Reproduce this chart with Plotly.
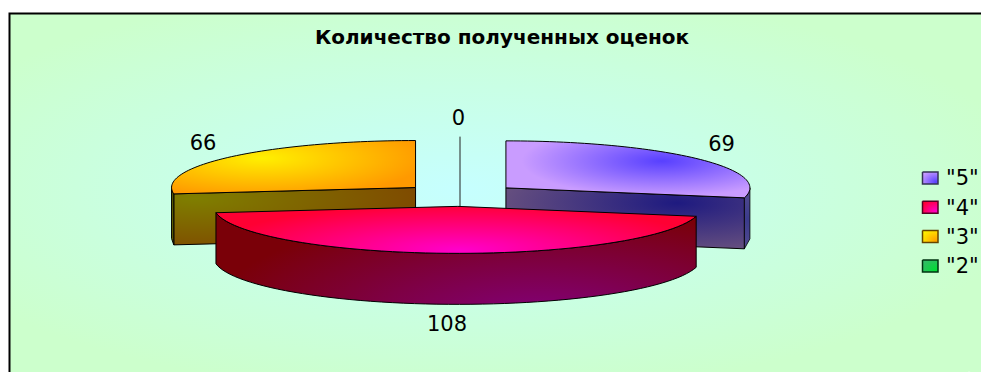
import math
import plotly.graph_objects as go

# ---- data ----
categories = ['"5"', '"4"', '"3"', '"2"']
values = [69, 108, 66, 0]
title_text = "Количество полученных оценок"

# ---- pie projection (pixel-unit axes) ----
W, H = 981, 372
CX, CY = 460.0, 195.0      # pie centre
RX, RY = 244.0, 47.0       # ellipse radii of the tilted pie
DEPTH = 51.0               # height of the pie wall
EXPLODE = 59.0 / 244.0     # explosion, fraction of radius
FONT = "DejaVu Sans, sans-serif"

fig = go.Figure()


def poly(points, center=None, radius=None, c_in="#000", c_out="#000", outline="#000000", lw=1.0, knee=1.0):
    """Filled polygon with an elliptical gradient around `center`.
    The zero-area spur sets the bounding box that the radial gradient follows."""
    xs = [p[0] for p in points]
    ys = [p[1] for p in points]
    if center is not None:
        ax, ay = center[0] - radius[0], center[1] - radius[1]
        bx, by = center[0] + radius[0], center[1] + radius[1]
        fx = xs + [xs[0], ax, bx, ax, xs[0]]
        fy = ys + [ys[0], ay, by, ay, ys[0]]
        scale = [[0, c_in], [knee, c_out]] + ([[1, c_out]] if knee < 1 else [])
        fig.add_trace(go.Scatter(
            x=fx, y=fy, mode="lines", fill="toself",
            line=dict(width=0, simplify=False),
            fillgradient=dict(type="radial", colorscale=scale),
            hoverinfo="skip", showlegend=False))
    if outline:
        fig.add_trace(go.Scatter(
            x=xs + [xs[0]], y=ys + [ys[0]], mode="lines",
            line=dict(color=outline, width=lw, simplify=False),
            hoverinfo="skip", showlegend=False))


def pt(ax, ay, deg, dy=0.0):
    r = math.radians(deg)
    return (ax + RX * math.sin(r), ay - RY * math.cos(r) + dy)


def arc(ax, ay, a0, a1, dy=0.0, n=60):
    return [pt(ax, ay, a0 + (a1 - a0) * i / n, dy) for i in range(n + 1)]


def apex(a0, a1):
    m = math.radians((a0 + a1) / 2)
    return (CX + EXPLODE * RX * math.sin(m), CY - EXPLODE * RY * math.cos(m))


# angular extents from the values (clockwise from 12 o'clock)
total = sum(values)
angles = {}
a = 0.0
for c, v in zip(categories, values):
    angles[c] = (a, a + 360.0 * v / total)
    a += 360.0 * v / total

# background
poly([(9, 13), (W + 2, 13), (W + 2, H + 2), (9, H + 2)], (460, 190), (575, 205),
     "#C6FFFF", "#CCFFCC", outline=None)
fig.add_trace(go.Scatter(x=[9.5, 9.5, W + 2], y=[H + 2, 13.5, 13.5], mode="lines",
                         line=dict(color="#000000", width=2), hoverinfo="skip", showlegend=False))

# "2": zero-width slice is a single edge, behind the others
a0, a1 = angles['"2"']
ax, ay = apex(a0, a1)
top = pt(ax, ay, a1)
fig.add_trace(go.Scatter(x=[top[0], ax, ax], y=[top[1], ay, ay + DEPTH], mode="lines",
                         line=dict(color="#222222", width=1), hoverinfo="skip", showlegend=False))

# "3"
a0, a1 = angles['"3"']
ax, ay = apex(a0, a1)
wall = [(ax, ay)] + [pt(ax, ay, a0)] + [pt(ax, ay, a0, DEPTH)] + [(ax, ay + DEPTH)]
poly(wall, (195, 198), (225, 56), "#7F7F00", "#7F4A00")
side = arc(ax, ay, a0, 270, n=8)
poly(side + [pt(ax, ay, 270, DEPTH), pt(ax, ay, a0, DEPTH)], (180, 220), (20, 40), "#6B6B00", "#555500")
poly([(ax, ay)] + arc(ax, ay, a0, a1), (262, 158), (165, 40), "#FFF000", "#FF9900")

# "5"
a0, a1 = angles['"5"']
ax, ay = apex(a0, a1)
wall = [(ax, ay)] + [pt(ax, ay, a1)] + [pt(ax, ay, a1, DEPTH)] + [(ax, ay + DEPTH)]
poly(wall, (677, 203), (180, 50), "#1E1A80", "#67507F")
side = arc(ax, ay, 90, a1, n=8)
poly(side + [pt(ax, ay, a1, DEPTH), pt(ax, ay, 90, DEPTH)], (748, 220), (20, 40), "#3A3A8C", "#5A5090", lw=0.8)
poly([(ax, ay)] + arc(ax, ay, a0, a1), (662, 161), (165, 42), "#5840FF", "#C99CFF", knee=0.85)

# "4"
a0, a1 = angles['"4"']
ax, ay = apex(a0, a1)
front = arc(ax, ay, a0, a1)
poly(front + [pt(ax, ay, a0 + (a1 - a0) * (60 - i) / 60, DEPTH) for i in range(61)],
     (540, 320), (335, 112), "#82007E", "#7A0008")
poly([(ax, ay)] + front, (460, 250), (250, 46), "#FF00CC", "#FF0033")

# value labels
label_pos = {'"5"': (721.5, 146), '"4"': (447, 326), '"3"': (203, 145), '"2"': (458.5, 120)}
fig.add_trace(go.Scatter(
    x=[label_pos[c][0] for c in categories], y=[label_pos[c][1] for c in categories],
    text=[str(v) for v in values], mode="text", textposition="middle center",
    textfont=dict(family=FONT, size=21, color="#000000"), hoverinfo="skip", showlegend=False))

# legend
swatches = [("#5840FF", "#C99CFF"), ("#FF00CC", "#FF0033"), ("#FFA000", "#FFF000"), ("#00DD33", "#33BB66")]
swatch_edges = ["#333355", "#550022", "#664400", "#003311"]
for i, c in enumerate(categories):
    yc = 178 + 29.3 * i
    poly([(922.5, yc - 6), (938, yc - 6), (938, yc + 6), (922.5, yc + 6)],
         (936, yc + 4), (16, 12), swatches[i][0], swatches[i][1], outline=swatch_edges[i], lw=1.5)
fig.add_trace(go.Scatter(
    x=[946] * len(categories), y=[180 + 29.3 * i for i in range(len(categories))],
    text=categories, mode="text", textposition="middle right",
    textfont=dict(family=FONT, size=21, color="#000000"), hoverinfo="skip", showlegend=False))

fig.update_layout(
    width=W, height=H, margin=dict(l=0, r=0, t=0, b=0),
    paper_bgcolor="#FFFFFF", plot_bgcolor="#FFFFFF", showlegend=False,
    title=dict(text="<b>" + title_text + "</b>", x=502 / W, y=1 - 37 / H, xanchor="center", yanchor="middle",
               font=dict(family=FONT, size=20, color="#000000")),
    xaxis=dict(range=[0, W], visible=False, fixedrange=True),
    yaxis=dict(range=[H, 0], visible=False, fixedrange=True),
)
fig.write_html("out.html", config=dict(displayModeBar=False),
               post_script="document.body.style.margin='0';document.body.style.overflow='hidden';")
